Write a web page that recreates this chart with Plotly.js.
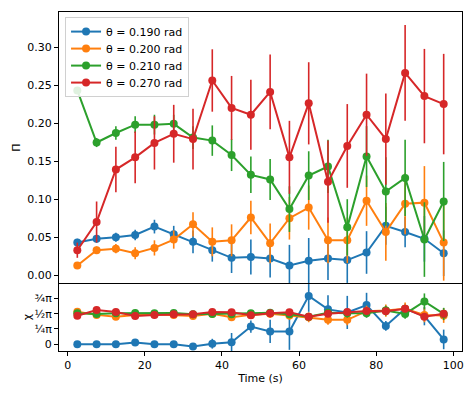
<!DOCTYPE html>
<html>
<head>
<meta charset="utf-8">
<script src="https://cdn.plot.ly/plotly-3.0.1.min.js"></script>
<style>html,body{margin:0;padding:0;background:#fff;}#chart{width:476px;height:397px;}</style>
</head>
<body>
<div id="chart"></div>
<script>
const time = [2.5, 7.5, 12.5, 17.5, 22.5, 27.5, 32.5, 37.5, 42.5, 47.5, 52.5, 57.5, 62.5, 67.5, 72.5, 77.5, 82.5, 87.5, 92.5, 97.5];
const seriesNames = ["θ = 0.190 rad", "θ = 0.200 rad", "θ = 0.210 rad", "θ = 0.270 rad"];
const seriesColors = ["#1f77b4", "#ff7f0e", "#2ca02c", "#d62728"];

// Top panel: Π
const piBlue   = [0.043, 0.048, 0.050, 0.053, 0.064, 0.054, 0.044, 0.033, 0.023, 0.024, 0.022, 0.013, 0.019, 0.022, 0.020, 0.030, 0.065, 0.057, 0.048, 0.029];
const piBlueErr= [0.005, 0.005, 0.006, 0.007, 0.009, 0.011, 0.015, 0.015, 0.020, 0.023, 0.025, 0.027, 0.030, 0.028, 0.030, 0.028, 0.025, 0.020, 0.030, 0.030];
const piOrange = [0.013, 0.033, 0.035, 0.029, 0.036, 0.047, 0.067, 0.044, 0.046, 0.076, 0.042, 0.075, 0.089, 0.046, 0.046, 0.098, 0.057, 0.094, 0.0955, 0.043];
const piOrangeErr = [0.004, 0.005, 0.006, 0.008, 0.010, 0.012, 0.016, 0.019, 0.021, 0.022, 0.026, 0.028, 0.029, 0.030, 0.030, 0.033, 0.038, 0.040, 0.048, 0.050];
const piGreen  = [0.243, 0.1745, 0.187, 0.198, 0.198, 0.199, 0.181, 0.177, 0.158, 0.132, 0.126, 0.087, 0.131, 0.143, 0.063, 0.156, 0.110, 0.128, 0.047, 0.097];
const piGreenErr = [0.003, 0.006, 0.009, 0.011, 0.013, 0.012, 0.015, 0.020, 0.021, 0.024, 0.027, 0.030, 0.032, 0.035, 0.037, 0.040, 0.045, 0.050, 0.049, 0.052];
const piRed    = [0.033, 0.070, 0.139, 0.155, 0.174, 0.186, 0.179, 0.256, 0.220, 0.211, 0.241, 0.155, 0.226, 0.123, 0.170, 0.211, 0.179, 0.266, 0.2355, 0.225];
const piRedErr = [0.010, 0.027, 0.030, 0.034, 0.035, 0.038, 0.040, 0.041, 0.042, 0.046, 0.049, 0.048, 0.054, 0.054, 0.055, 0.054, 0.060, 0.063, 0.062, 0.066];

// Bottom panel: χ (in units of π)
const chiBlue   = [0.0, 0.0, 0.0, 0.03, 0.0, 0.0, -0.035, 0.01, 0.035, 0.29, 0.21, 0.21, 0.79, 0.57, 0.52, 0.64, 0.30, 0.58, 0.46, 0.08];
const chiBlueErr= [0.02, 0.02, 0.02, 0.03, 0.02, 0.03, 0.03, 0.08, 0.15, 0.10, 0.19, 0.30, 0.26, 0.23, 0.27, 0.20, 0.08, 0.08, 0.15, 0.16];
const chiOrange = [0.53, 0.48, 0.45, 0.48, 0.49, 0.48, 0.46, 0.50, 0.44, 0.48, 0.50, 0.47, 0.44, 0.40, 0.40, 0.54, 0.55, 0.58, 0.48, 0.47];
const chiOrangeErr = [0.03, 0.03, 0.04, 0.04, 0.04, 0.05, 0.05, 0.05, 0.06, 0.06, 0.07, 0.07, 0.08, 0.08, 0.09, 0.09, 0.10, 0.10, 0.12, 0.12];
const chiGreen  = [0.505, 0.495, 0.505, 0.51, 0.505, 0.51, 0.49, 0.495, 0.49, 0.505, 0.515, 0.49, 0.45, 0.515, 0.505, 0.505, 0.55, 0.495, 0.70, 0.495];
const chiGreenErr = [0.01, 0.02, 0.02, 0.02, 0.02, 0.02, 0.03, 0.03, 0.04, 0.04, 0.05, 0.05, 0.06, 0.06, 0.07, 0.07, 0.08, 0.08, 0.13, 0.10];
const chiRed    = [0.467, 0.56, 0.527, 0.462, 0.478, 0.489, 0.489, 0.527, 0.522, 0.473, 0.505, 0.522, 0.45, 0.50, 0.527, 0.543, 0.538, 0.581, 0.45, 0.50];
const chiRedErr = [0.03, 0.04, 0.04, 0.03, 0.03, 0.03, 0.03, 0.03, 0.03, 0.03, 0.03, 0.03, 0.03, 0.03, 0.03, 0.03, 0.03, 0.04, 0.04, 0.04];

const piTickVals = [0, 0.05, 0.10, 0.15, 0.20, 0.25, 0.30];
const chiTickVals = [0, 0.25, 0.5, 0.75];
const chiTickText = ["0", "¼π", "½π", "¾π"];
const timeTickVals = [0, 20, 40, 60, 80, 100];

const piSeries = [[piBlue, piBlueErr], [piOrange, piOrangeErr], [piGreen, piGreenErr], [piRed, piRedErr]];
const chiSeries = [[chiBlue, chiBlueErr], [chiOrange, chiOrangeErr], [chiGreen, chiGreenErr], [chiRed, chiRedErr]];

const traces = [];
function mk(x, y, err, i, xa, ya, legend) {
  return {
    x: x, y: y, type: 'scatter', mode: 'lines+markers',
    name: seriesNames[i], showlegend: legend, legendgroup: 'g' + i,
    xaxis: xa, yaxis: ya,
    line: {color: seriesColors[i], width: 2},
    marker: {color: seriesColors[i], size: 8},
    error_y: {type: 'data', array: err, visible: true, color: seriesColors[i], thickness: 1.6, width: 0}
  };
}
for (let i = 0; i < 4; i++) traces.push(mk(time, piSeries[i][0], piSeries[i][1], i, 'x2', 'y', true));
for (let i = 0; i < 4; i++) traces.push(mk(time, chiSeries[i][0], chiSeries[i][1], i, 'x', 'y2', false));

const split = 68 / 339;
const fontFam = 'DejaVu Sans, sans-serif';
const layout = {
  width: 476, height: 397,
  margin: {l: 59, r: 14, t: 12, b: 46, pad: 0},
  paper_bgcolor: '#fff', plot_bgcolor: '#fff',
  font: {family: fontFam, size: 11, color: '#000'},
  showlegend: true,
  legend: {x: 0.015, y: 0.985, xanchor: 'left', yanchor: 'top', bgcolor: 'rgba(255,255,255,0.85)',
           bordercolor: '#d0d0d0', borderwidth: 1, font: {family: fontFam, size: 11, color: '#000'},
           tracegroupgap: 0, itemwidth: 30},
  xaxis: {domain: [0, 1], anchor: 'y2', range: [-2.25, 102.25], tickvals: timeTickVals,
          ticks: 'outside', ticklen: 4, tickcolor: '#000', showline: true, mirror: false, linecolor: '#000', linewidth: 1,
          showgrid: false, zeroline: false, title: {text: 'Time (s)', standoff: 3, font: {size: 11}}},
  xaxis2: {domain: [0, 1], anchor: 'y', matches: 'x', showticklabels: false, ticks: '',
           showline: true, mirror: true, linecolor: '#000', linewidth: 1, showgrid: false, zeroline: false},
  yaxis: {domain: [split, 1], anchor: 'x2', range: [-0.0101, 0.346], tickvals: piTickVals, tickformat: '.2f',
          ticks: 'outside', ticklen: 4, tickcolor: '#000', showline: true, mirror: true, linecolor: '#000', linewidth: 1,
          showgrid: false, zeroline: false, title: {text: 'Π', standoff: 4, font: {size: 11}}},
  yaxis2: {domain: [0, split], anchor: 'x', range: [-0.109, 1.0], tickvals: chiTickVals, ticktext: chiTickText,
           ticks: 'outside', ticklen: 4, tickcolor: '#000', showline: true, mirror: true, linecolor: '#000', linewidth: 1,
           showgrid: false, zeroline: false, title: {text: 'χ', standoff: 0, font: {size: 11}}}
};
Plotly.newPlot('chart', traces, layout, {displayModeBar: false, staticPlot: true}).then(function (gd) {
  // tighten legend row spacing to match the reference
  const items = gd.querySelectorAll('.legend .traces');
  const spacing = 17;
  const ys = [];
  items.forEach(function (el) {
    const m = /translate\(\s*([-\d.e]+)[\s,]+([-\d.e]+)\s*\)/.exec(el.getAttribute('transform') || '');
    ys.push(m ? [parseFloat(m[1]), parseFloat(m[2])] : null);
  });
  if (ys.length > 1 && ys[0] && ys[1]) {
    const orig = ys[1][1] - ys[0][1];
    const y0 = ys[0][1] - 1;
    items.forEach(function (el, i) {
      if (ys[i]) el.setAttribute('transform', 'translate(' + ys[i][0] + ',' + (y0 + i * spacing) + ')');
    });
    const bg = gd.querySelector('.legend .bg');
    if (bg) {
      const h = parseFloat(bg.getAttribute('height'));
      bg.setAttribute('height', h - (items.length - 1) * (orig - spacing) - 2);
    }
  }
});
</script>
</body>
</html>
